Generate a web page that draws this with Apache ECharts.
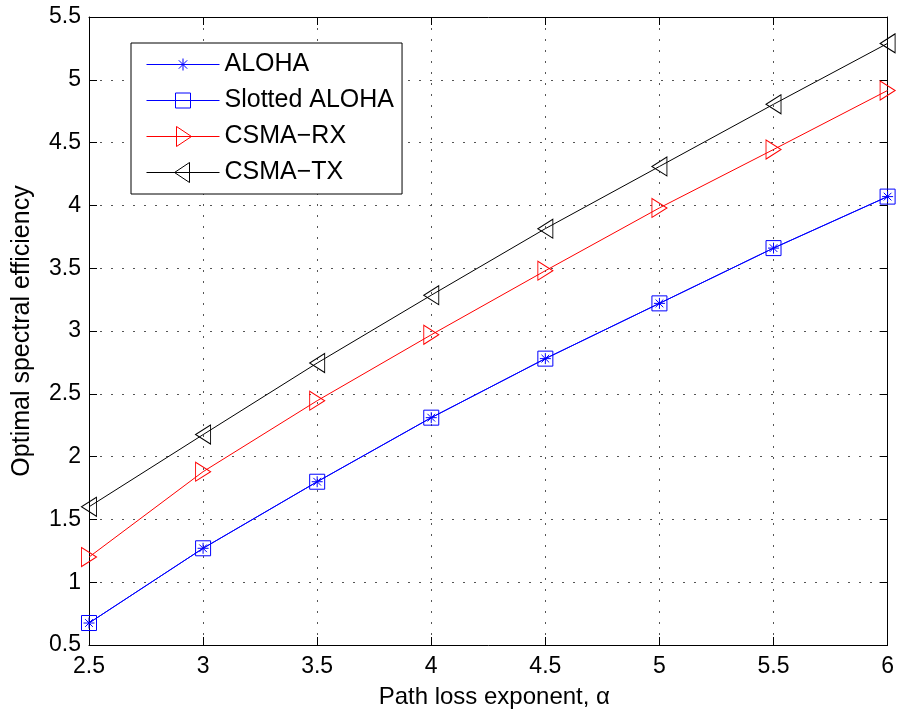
<!DOCTYPE html>
<html>
<head>
<meta charset="utf-8">
<script src="https://cdn.jsdelivr.net/npm/echarts@6/dist/echarts.min.js"></script>
<style>
  html, body { margin: 0; padding: 0; background: #fff; }
  #chart { width: 897px; height: 714px; }
</style>
</head>
<body>
<div id="chart"></div>
<script>
// Path loss exponent (x) and optimal spectral efficiency per access scheme
const alpha = [2.5, 3, 3.5, 4, 4.5, 5, 5.5, 6];
const aloha = [0.675, 1.27, 1.80, 2.31, 2.78, 3.22, 3.66, 4.07];
const slottedAloha = [0.675, 1.27, 1.80, 2.31, 2.78, 3.22, 3.66, 4.07];
const csmaRx = [1.20, 1.88, 2.445, 2.97, 3.48, 3.98, 4.445, 4.915];
const csmaTx = [1.60, 2.175, 2.745, 3.285, 3.815, 4.31, 4.805, 5.29];

const seriesNames = ['ALOHA', 'Slotted ALOHA', 'CSMA\u2212RX', 'CSMA\u2212TX'];
const xTitle = 'Path loss exponent, \u03b1';
const yTitle = 'Optimal spectral efficiency';

const FONT = '"Liberation Sans", Arial, Helvetica, sans-serif';
const BLUE = '#0000ff', RED = '#ff0000', BLACK = '#000000';

// Marker shapes (outline only)
const ASTERISK = 'path://M0.5,0 L0.5,1 M0,0.5 L1,0.5 M0.15,0.15 L0.85,0.85 M0.15,0.85 L0.85,0.15';
const SQUARE = 'path://M0,0 L1,0 L1,1 L0,1 Z';
const TRI_RIGHT = 'path://M0,0 L1,0.5 L0,1 Z';
const TRI_LEFT = 'path://M1,0 L0,0.5 L1,1 Z';

// Legend icons: line sample with marker in a 73 x 20 box
const LEG_ASTERISK = 'path://M0,10 L73,10 M36.5,4 L36.5,16 M32.3,5.8 L40.7,14.2 M32.3,14.2 L40.7,5.8';
const LEG_SQUARE = 'path://M0,10 L73,10 M29,2.5 L44,2.5 L44,17.5 L29,17.5 Z';
const LEG_TRI_RIGHT = 'path://M0,10 L73,10 M30,0 L45,10 L30,20 Z';
const LEG_TRI_LEFT = 'path://M0,10 L73,10 M43,0 L28,10 L43,20 Z';

function pairs(ys) { return alpha.map((x, i) => [x, ys[i]]); }

function lineSeries(name, ys, color, symbol, size) {
  return {
    name: name,
    type: 'line',
    data: pairs(ys),
    symbol: symbol,
    symbolSize: size,
    showAllSymbol: true,
    lineStyle: { color: color, width: 1 },
    itemStyle: { color: 'rgba(0,0,0,0)', borderColor: color, borderWidth: 1 },
    emphasis: { disabled: true },
    animation: false,
    z: 3
  };
}

function legendItem(name, icon, color) {
  return {
    name: name,
    icon: icon,
    itemStyle: { color: 'rgba(0,0,0,0)', borderColor: color, borderWidth: 1 },
    textStyle: { color: '#000' }
  };
}

const tickStyle = { show: true, inside: true, length: 8, lineStyle: { color: '#000', width: 1 } };
const axisLineStyle = { show: true, onZero: false, lineStyle: { color: '#000', width: 1 } };
const gridLineStyle = { show: true, lineStyle: { color: '#555', width: 1, type: [2, 9] } };
const labelStyle = { color: '#000', fontFamily: FONT, fontSize: 23 };

const chart = echarts.init(document.getElementById('chart'), null, { renderer: 'canvas' });

chart.setOption({
  backgroundColor: '#fff',
  animation: false,
  grid: { left: 89, right: 9, top: 17, bottom: 67, containLabel: false },
  legend: {
    orient: 'vertical',
    left: 131,
    top: 43,
    padding: [9, 8, 9, 15],
    itemWidth: 73,
    itemHeight: 20,
    itemGap: 11,
    itemTextGap: 11,
    borderColor: '#000',
    borderWidth: 1,
    backgroundColor: '#fff',
    selectedMode: false,
    textStyle: { fontFamily: FONT, fontSize: 25, color: '#000', lineHeight: 24 },
    data: [
      legendItem(seriesNames[0], LEG_ASTERISK, BLUE),
      legendItem(seriesNames[1], LEG_SQUARE, BLUE),
      legendItem(seriesNames[2], LEG_TRI_RIGHT, RED),
      legendItem(seriesNames[3], LEG_TRI_LEFT, BLACK)
    ],
    z: 10
  },
  xAxis: [
    {
      type: 'value',
      position: 'bottom',
      min: 2.5, max: 6, interval: 0.5,
      name: xTitle,
      nameLocation: 'middle',
      nameGap: 40,
      nameTextStyle: { color: '#000', fontFamily: FONT, fontSize: 24, padding: [0, 0, 0, 12] },
      axisLine: axisLineStyle,
      axisTick: tickStyle,
      axisLabel: Object.assign({ margin: 10 }, labelStyle),
      splitLine: gridLineStyle
    },
    {
      type: 'value',
      position: 'top',
      min: 2.5, max: 6, interval: 0.5,
      axisLine: axisLineStyle,
      axisTick: tickStyle,
      axisLabel: { show: false },
      splitLine: { show: false }
    }
  ],
  yAxis: [
    {
      type: 'value',
      position: 'left',
      min: 0.5, max: 5.5, interval: 0.5,
      name: yTitle,
      nameLocation: 'middle',
      nameGap: 54,
      nameRotate: 90,
      nameTextStyle: { color: '#000', fontFamily: FONT, fontSize: 25 },
      axisLine: axisLineStyle,
      axisTick: tickStyle,
      axisLabel: Object.assign({ margin: 8 }, labelStyle),
      splitLine: gridLineStyle
    },
    {
      type: 'value',
      position: 'right',
      min: 0.5, max: 5.5, interval: 0.5,
      axisLine: axisLineStyle,
      axisTick: tickStyle,
      axisLabel: { show: false },
      splitLine: { show: false }
    }
  ],
  series: [
    lineSeries(seriesNames[0], aloha, BLUE, ASTERISK, 11),
    lineSeries(seriesNames[1], slottedAloha, BLUE, SQUARE, 15),
    lineSeries(seriesNames[2], csmaRx, RED, TRI_RIGHT, [15, 19]),
    lineSeries(seriesNames[3], csmaTx, BLACK, TRI_LEFT, [15, 19])
  ]
});
</script>
</body>
</html>
